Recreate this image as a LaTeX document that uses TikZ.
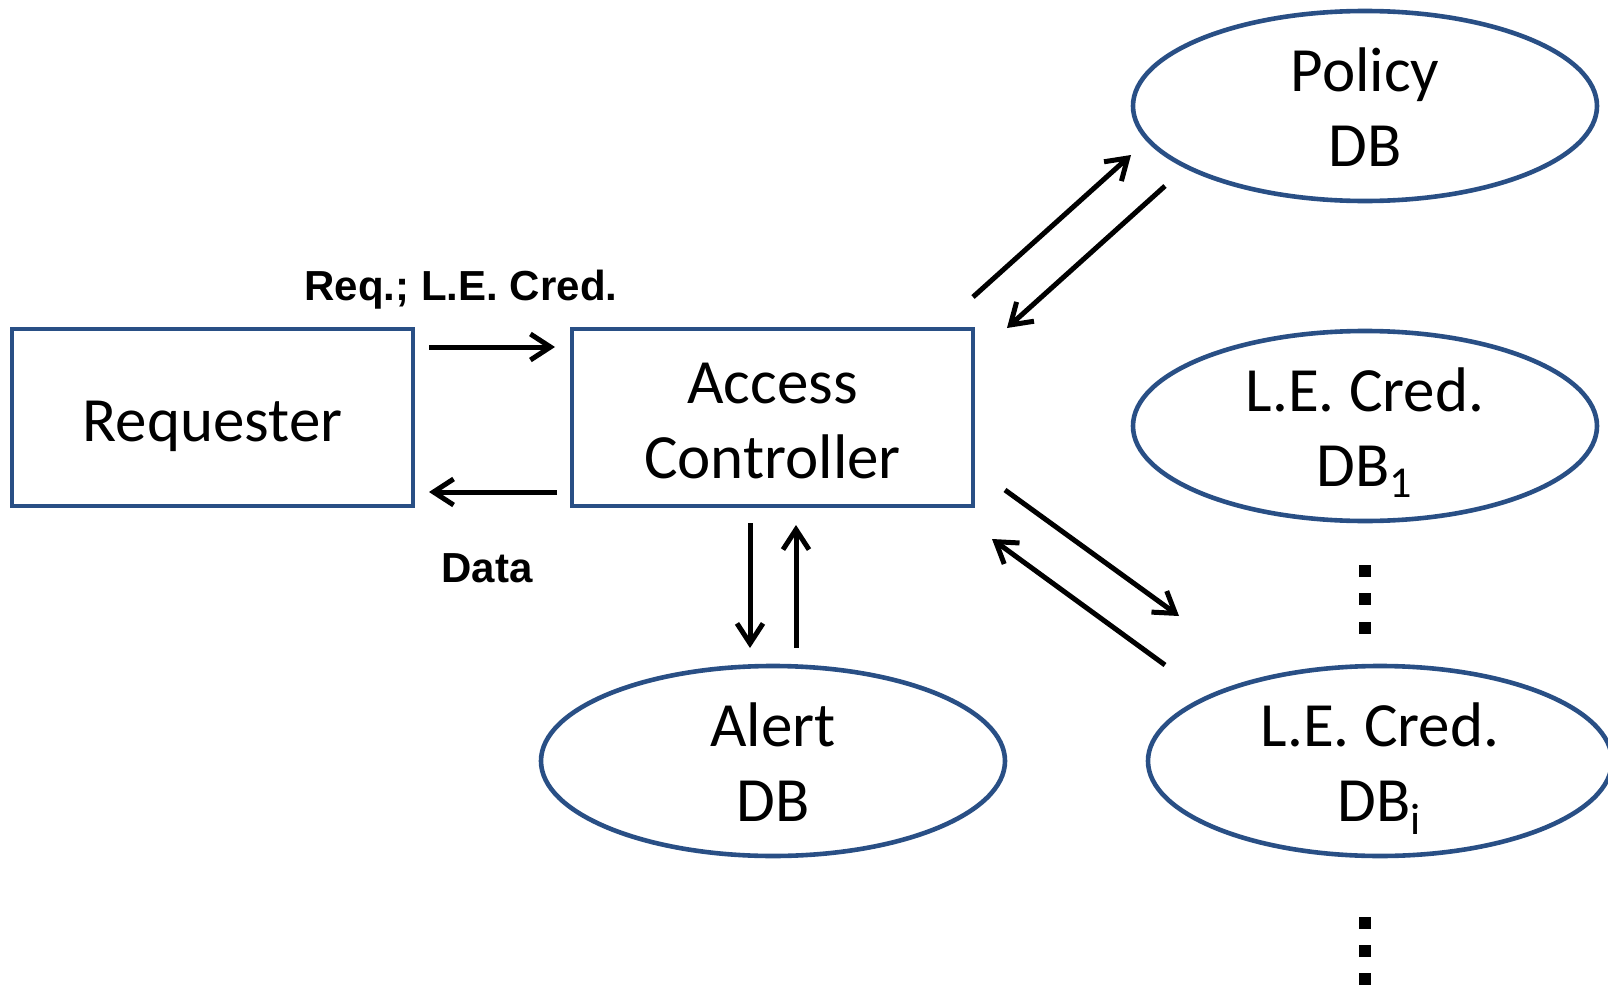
\documentclass[tikz,border=0pt]{standalone}
\usepackage{fontspec}
\setmainfont{Carlito}
\newfontfamily\lblfont{Liberation Sans}
\usetikzlibrary{shapes.geometric,arrows.meta}
\definecolor{outline}{RGB}{41,79,133}
\begin{document}
\begin{tikzpicture}[x=0.5pt,y=-0.5pt,
  shapetext/.style={align=center, font=\fontsize{31.5}{37.5}\selectfont},
  oneline/.style={text height=23.5pt, text depth=0pt},
  twoline/.style={text height=60.5pt, text depth=0pt},
  box/.style={shapetext, draw=outline, line width=2pt, rectangle,
    minimum width=200.5pt, minimum height=88.5pt, inner sep=0pt},
  db/.style={shapetext, twoline, draw=outline, line width=2.3pt, ellipse,
    minimum width=232pt, minimum height=95pt, inner sep=0pt},
  flow/.style={line width=2.5pt, -{Straight Barb[length=10pt,width=13pt]}},
  lbl/.style={anchor=base, inner sep=0pt, font=\lblfont\bfseries\fontsize{21}{25}\selectfont},
  dotmark/.style={fill=black}]

\useasboundingbox (0,0) rectangle (1608,985);

% boxes and databases
\node[box, oneline] (req) at (212.5,417.5) {Requester};
\node[box, twoline] (ac)  at (772.5,417.5) {Access\\Controller};
\node[db] (pol)   at (1365,106) {Policy\\DB};
\node[db] (cred1) at (1365,426) {L.E. Cred.\\DB\textsubscript{1}};
\node[db] (alert) at (773,761)  {Alert\\DB};
\node[db] (credi) at (1380,761) {L.E. Cred.\\DB\textsubscript{i}};

% arrow end points
\coordinate (r1) at (429,347);  \coordinate (r2) at (555,347);
\coordinate (d1) at (557,492);  \coordinate (d2) at (429,492);
\coordinate (a1) at (750,523);  \coordinate (a2) at (750,648);
\coordinate (a3) at (796,648);  \coordinate (a4) at (796,525);
\coordinate (p1) at (973,297);  \coordinate (p2) at (1131,155);
\coordinate (p3) at (1165,186); \coordinate (p4) at (1007,328);
\coordinate (c1) at (1005,490); \coordinate (c2) at (1179,616);
\coordinate (c3) at (1165,665); \coordinate (c4) at (992,539);

% message flows
\draw[flow] (r1) -- (r2);
\draw[flow] (d1) -- (d2);
\draw[flow] (a1) -- (a2);
\draw[flow] (a3) -- (a4);
\draw[flow] (p1) -- (p2);
\draw[flow] (p3) -- (p4);
\draw[flow] (c1) -- (c2);
\draw[flow] (c3) -- (c4);

% flow labels
\node[lbl] (reqlbl)  at (461,300.5) {Req.; L.E. Cred.};
\node[lbl] (datalbl) at (487,582.5) {Data};

% ellipsis marks between the credential databases
\foreach \yy in {571,599,628,923,951,979}
  \fill[dotmark] (1359,\yy-6) rectangle ++(12,12);

\end{tikzpicture}
\end{document}
